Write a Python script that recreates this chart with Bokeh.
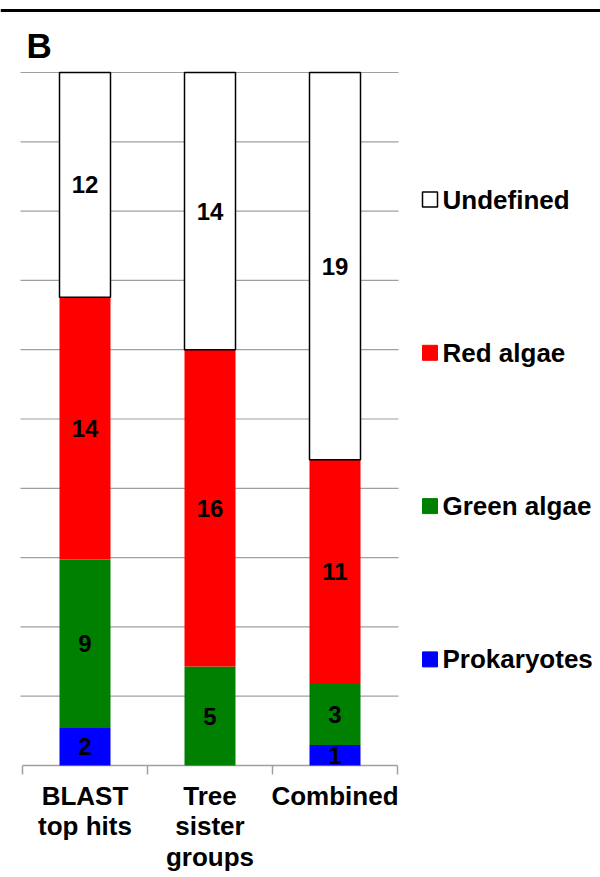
import numpy as np
from bokeh.plotting import figure
from bokeh.models import Range1d, Span
from bokeh.core.properties import value
from bokeh.embed import file_html
from bokeh.resources import INLINE

# ---- data ----
categories = ["BLAST\ntop hits", "Tree\nsister\ngroups", "Combined"]
series_names = ["Prokaryotes", "Green algae", "Red algae", "Undefined"]
prokaryotes = [2, 0, 1]
green_algae = [9, 5, 3]
red_algae = [14, 16, 11]
undefined = [12, 14, 19]
series_colors = ["#0000FF", "#008000", "#FF0000", "#FFFFFF"]
panel_letter = "B"

FONT = value("Liberation Sans")

counts = np.array([prokaryotes, green_algae, red_algae, undefined], dtype=float)
totals = counts.sum(axis=0)
frac = counts / totals
tops = np.cumsum(frac, axis=0)
bottoms = tops - frac
xc = np.arange(len(categories)) + 0.5

# ---- figure: frame covers the whole canvas ----
W, H = 600, 877
px_x = 125.0   # pixels per category
px_y = 693.0   # pixels per 100 %
x0_px = 22.0   # screen x of category boundary 0
y0_px = 765.0  # screen y (from top) of 0 %
x_start = -x0_px / px_x
y_start = -(H - y0_px) / px_y

p = figure(width=W, height=H, output_backend="svg", toolbar_location=None,
           x_axis_location=None, y_axis_location=None,
           x_range=Range1d(x_start, x_start + W / px_x),
           y_range=Range1d(y_start, y_start + H / px_y),
           min_border=0, outline_line_color=None)
p.xgrid.visible = False
p.ygrid.visible = False

# top rule and panel letter
p.add_layout(Span(location=(y0_px - 10) / px_y, dimension="width",
                  line_color="black", line_width=3))
p.text(x=[(26 - x0_px) / px_x], y=[(y0_px - 45) / px_y], text=[panel_letter],
       text_font=FONT, text_font_style="bold", text_font_size="35px",
       text_color="black", text_align="left", text_baseline="middle")

# gridlines (every 10 %)
gy = np.round(np.arange(1, 11) * 0.1, 2)
p.segment(x0=np.full(len(gy), -0.016), x1=np.full(len(gy), 3.008), y0=gy, y1=gy,
          line_color="#a0a0a0", line_width=1.2)

# bottom axis line + ticks at category boundaries
bx = np.arange(len(categories) + 1)
p.segment(x0=[0], x1=[len(categories)], y0=[0], y1=[0], line_color="#a0a0a0", line_width=1.5)
p.segment(x0=bx, x1=bx, y0=np.zeros(len(bx)), y1=np.full(len(bx), -9 / px_y),
          line_color="#a0a0a0", line_width=1.5)

# stacked bars
bw = 51 / px_x
for i, name in enumerate(series_names):
    is_undef = name == "Undefined"
    p.vbar(x=xc, width=bw, bottom=bottoms[i], top=tops[i],
           fill_color=series_colors[i],
           line_color="black" if is_undef else None,
           line_width=1.5 if is_undef else 0)

# segment labels
lx, ly, lt = [], [], []
for i in range(len(series_names)):
    for j in range(len(categories)):
        if counts[i, j] > 0:
            lx.append(xc[j])
            ly.append((bottoms[i, j] + tops[i, j]) / 2)
            lt.append(str(int(counts[i, j])))
p.text(x=lx, y=ly, text=lt, text_font=FONT, text_font_style="bold",
       text_font_size="24px", text_color="black",
       text_align="center", text_baseline="middle")

# category labels
p.text(x=xc, y=np.full(len(xc), -15 / px_y), text=categories, text_font=FONT,
       text_font_style="bold", text_font_size="26px", text_color="black",
       text_align="center", text_baseline="top", text_line_height=1.03)

# legend (drawn manually, top = Undefined)
leg_names = series_names[::-1]
leg_colors = series_colors[::-1]
leg_y = (y0_px - (199 + np.arange(4) * 153.3)) / px_y
p.scatter(x=np.full(4, (429.5 - x0_px) / px_x), y=leg_y, marker="square", size=15,
          fill_color=leg_colors,
          line_color=["black" if c == "#FFFFFF" else c for c in leg_colors],
          line_width=[1.5 if c == "#FFFFFF" else 1 for c in leg_colors])
p.text(x=np.full(4, (442 - x0_px) / px_x), y=leg_y, text=leg_names, text_font=FONT,
       text_font_style="bold", text_font_size="26px", text_color="black",
       text_align="left", text_baseline="middle")

open("out.html", "w").write(file_html(p, INLINE))
